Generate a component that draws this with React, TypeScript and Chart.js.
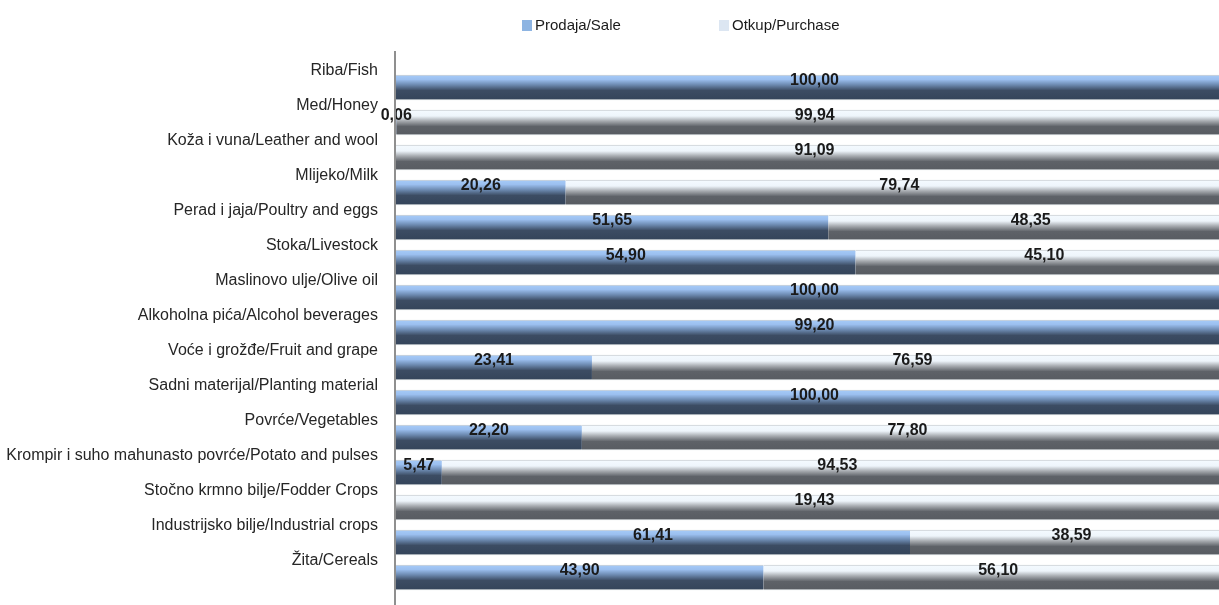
import React, { useEffect, useRef } from "react";
import { Chart, registerables } from "chart.js";

Chart.register(...registerables);

const categories = [
  "Riba/Fish",
  "Med/Honey",
  "Koža i vuna/Leather and wool",
  "Mlijeko/Milk",
  "Perad i jaja/Poultry and eggs",
  "Stoka/Livestock",
  "Maslinovo ulje/Olive oil",
  "Alkoholna pića/Alcohol beverages",
  "Voće i grožđe/Fruit and grape",
  "Sadni materijal/Planting material",
  "Povrće/Vegetables",
  "Krompir i suho mahunasto povrće/Potato and pulses",
  "Stočno krmno bilje/Fodder Crops",
  "Industrijsko bilje/Industrial crops",
  "Žita/Cereals",
];

const saleValues: (number | null)[] = [
  100.0, 0.06, null, 20.26, 51.65, 54.9, 100.0, 99.2, 23.41, 100.0, 22.2, 5.47, null, 61.41, 43.9,
];

const purchaseValues: (number | null)[] = [
  null, 99.94, 91.09, 79.74, 48.35, 45.1, null, null, 76.59, null, 77.8, 94.53, 19.43, 38.59, 56.1,
];

const seriesNames = ["Prodaja/Sale", "Otkup/Purchase"];

const FONT = "'Liberation Sans', Arial, 'Noto Sans', sans-serif";
const BAR_THICKNESS = 25;

function sharePercent(own: (number | null)[], other: (number | null)[]) {
  return own.map((v, i) => {
    if (v == null) return null;
    const total = v + (other[i] ?? 0);
    return total > 0 ? (v / total) * 100 : 0;
  });
}

const blueStops: [number, string][] = [
  [0, "#a6cbf8"],
  [0.18, "#9bbfef"],
  [0.4, "#6b88ae"],
  [0.62, "#3c4c63"],
  [1, "#34445a"],
];
const grayStops: [number, string][] = [
  [0, "#f4faff"],
  [0.24, "#eef5fb"],
  [0.44, "#a7abb0"],
  [0.66, "#5e6268"],
  [1, "#585c62"],
];

function barGradient(stops: [number, string][]) {
  return (ctx: any) => {
    const chart = ctx.chart;
    const yScale = chart.scales && chart.scales.y;
    if (ctx.type !== "data" || !chart.chartArea || !yScale) return stops[stops.length - 1][1];
    const yc = yScale.getPixelForValue(ctx.dataIndex);
    const half = BAR_THICKNESS / 2;
    const g = chart.ctx.createLinearGradient(0, yc - half, 0, yc + half);
    stops.forEach(([o, c]) => g.addColorStop(o, c));
    return g;
  };
}

function fmt(v: number) {
  return v.toFixed(2).replace(".", ",");
}

const valueLabelsPlugin = {
  id: "valueLabels",
  afterDatasetsDraw(chart: any) {
    const ctx = chart.ctx;
    ctx.save();
    ctx.font = `bold 16px ${FONT}`;
    ctx.fillStyle = "#1a1a1a";
    ctx.textAlign = "center";
    ctx.textBaseline = "middle";
    const raws = [saleValues, purchaseValues];
    chart.data.datasets.forEach((ds: any, di: number) => {
      const meta = chart.getDatasetMeta(di);
      meta.data.forEach((el: any, i: number) => {
        const raw = raws[di][i];
        if (raw == null) return;
        const p = el.getCenterPoint();
        ctx.fillText(fmt(raw), p.x, p.y - 7);
      });
    });
    ctx.restore();
  },
};

const axisLinePlugin = {
  id: "axisLine",
  afterDraw(chart: any) {
    const ctx = chart.ctx;
    const x = chart.chartArea.left - 1;
    ctx.save();
    ctx.strokeStyle = "#8f8f8f";
    ctx.lineWidth = 2;
    ctx.beginPath();
    ctx.moveTo(x, 51);
    ctx.lineTo(x, chart.height);
    ctx.stroke();
    ctx.restore();
  },
};

const legendPlugin = {
  id: "customLegend",
  afterDraw(chart: any) {
    const ctx = chart.ctx;
    ctx.save();
    ctx.font = `15px ${FONT}`;
    ctx.textAlign = "left";
    ctx.textBaseline = "middle";
    const items = [
      { x: 522, color: "#8db4e2", text: seriesNames[0] },
      { x: 719, color: "#dce6f2", text: seriesNames[1] },
    ];
    items.forEach((it) => {
      ctx.fillStyle = it.color;
      ctx.fillRect(it.x, 20, 10, 11);
      ctx.fillStyle = "#1a1a1a";
      ctx.fillText(it.text, it.x + 13, 26);
    });
    ctx.restore();
  },
};

export default function App() {
  const canvasRef = useRef<HTMLCanvasElement | null>(null);

  useEffect(() => {
    if (!canvasRef.current) return;
    const chart = new Chart(canvasRef.current, {
      type: "bar",
      data: {
        labels: categories,
        datasets: [
          {
            label: seriesNames[0],
            data: sharePercent(saleValues, purchaseValues) as any,
            backgroundColor: barGradient(blueStops) as any,
            borderColor: "rgba(200,205,210,0.9)",
            borderWidth: { top: 1, bottom: 1, left: 0, right: 0 } as any,
            borderSkipped: false,
            barThickness: BAR_THICKNESS,
          },
          {
            label: seriesNames[1],
            data: sharePercent(purchaseValues, saleValues) as any,
            backgroundColor: barGradient(grayStops) as any,
            borderColor: "rgba(200,205,210,0.9)",
            borderWidth: { top: 1, bottom: 1, left: 0, right: 0 } as any,
            borderSkipped: false,
            barThickness: BAR_THICKNESS,
          },
        ],
      },
      options: {
        indexAxis: "y",
        responsive: false,
        animation: false,
        layout: { padding: { left: 0, right: 7, top: 70, bottom: 10 } },
        plugins: {
          legend: { display: false },
          tooltip: { enabled: false },
          title: { display: false },
        },
        scales: {
          x: {
            stacked: true,
            min: 0,
            max: 100,
            display: false,
          },
          y: {
            stacked: true,
            offset: true,
            grid: { display: false, drawTicks: false },
            border: { display: false },
            ticks: {
              color: "#262626",
              font: { family: FONT, size: 16 },
              padding: 18,
              labelOffset: -17,
              autoSkip: false,
            },
            afterFit(scale: any) {
              scale.width = 396;
              scale.paddingTop = 0;
              scale.paddingBottom = 0;
            },
          },
        },
      },
      plugins: [valueLabelsPlugin, axisLinePlugin, legendPlugin],
    });
    return () => chart.destroy();
  }, []);

  return (
    <div
      style={{
        position: "fixed",
        left: 0,
        top: 0,
        width: 1219,
        height: 605,
        overflow: "hidden",
        background: "#ffffff",
      }}
    >
      <canvas ref={canvasRef} width={1240} height={605} style={{ display: "block" }} />
    </div>
  );
}
